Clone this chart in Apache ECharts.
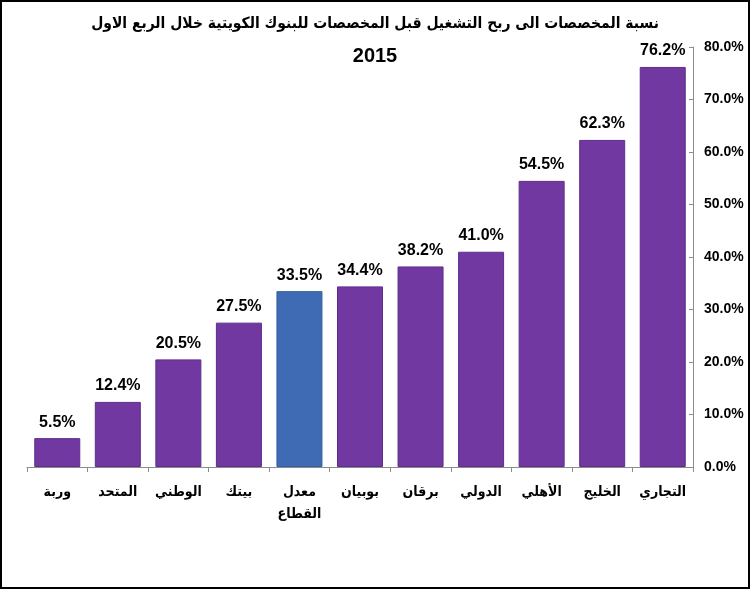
<!DOCTYPE html>
<html>
<head>
<meta charset="utf-8">
<script src="https://cdn.jsdelivr.net/npm/echarts@6/dist/echarts.min.js"></script>
<style>
html, body { margin: 0; padding: 0; background: #fff; }
#chart { width: 750px; height: 589px; box-sizing: border-box; border: 2px solid #000; }
</style>
</head>
<body>
<div id="chart"></div>
<script>
// البيانات
var categories = ['وربة', 'المتحد', 'الوطني', 'بيتك', 'معدل\nالقطاع', 'بوبيان', 'برقان', 'الدولي', 'الأهلي', 'الخليج', 'التجاري'];
var values = [5.5, 12.4, 20.5, 27.5, 33.5, 34.4, 38.2, 41.0, 54.5, 62.3, 76.2];
var highlightIndex = 4;

var font = "'Liberation Sans', Arial, 'DejaVu Sans Condensed', sans-serif";
var arFont = "'DejaVu Sans Condensed', 'DejaVu Sans', sans-serif";

var myChart = echarts.init(document.getElementById('chart'));

var data = [];
for (var i = 0; i < values.length; i++) {
  data.push({
    value: values[i],
    itemStyle: i === highlightIndex
      ? { color: '#3E6BB4', borderColor: '#35609f', borderWidth: 1 }
      : { color: '#7038A0', borderColor: '#5f2d8a', borderWidth: 1 }
  });
}

myChart.setOption({
  animation: false,
  title: {
    text: '{ar|نسبة المخصصات الى ربح التشغيل قبل المخصصات للبنوك الكويتية خلال الربع الاول}\n{yr|2015}',
    left: 'center',
    top: 0,
    textStyle: {
      rich: {
        ar: { fontFamily: arFont, fontSize: 15.5, fontWeight: 'bold', color: '#000', lineHeight: 33, align: 'center' },
        yr: { fontFamily: font, fontSize: 20, fontWeight: 'bold', color: '#000', lineHeight: 33, align: 'center' }
      }
    }
  },
  grid: { left: 25, right: 55, top: 45, bottom: 120 },
  xAxis: {
    type: 'category',
    data: categories,
    axisLine: { lineStyle: { color: '#8c8c8c' } },
    axisTick: { show: true, length: 5, lineStyle: { color: '#8c8c8c' } },
    axisLabel: {
      interval: 0,
      margin: 14,
      fontFamily: arFont, fontSize: 14, fontWeight: 'bold', color: '#000', lineHeight: 22
    }
  },
  yAxis: {
    type: 'value',
    position: 'right',
    min: 0, max: 80, interval: 10,
    splitLine: { show: false },
    axisLine: { show: true, lineStyle: { color: '#8c8c8c' } },
    axisTick: { show: true, inside: true, length: 4, lineStyle: { color: '#8c8c8c' } },
    axisLabel: {
      margin: 11,
      fontFamily: font, fontSize: 14, fontWeight: 'bold', color: '#000',
      formatter: function (v) { return v.toFixed(1) + '%'; }
    }
  },
  series: [{
    type: 'bar',
    data: data,
    barCategoryGap: '24%',
    label: {
      show: true,
      position: 'top',
      distance: 8,
      fontFamily: font, fontSize: 16, fontWeight: 'bold', color: '#000',
      formatter: function (p) { return p.value.toFixed(1) + '%'; }
    }
  }]
});
</script>
</body>
</html>
